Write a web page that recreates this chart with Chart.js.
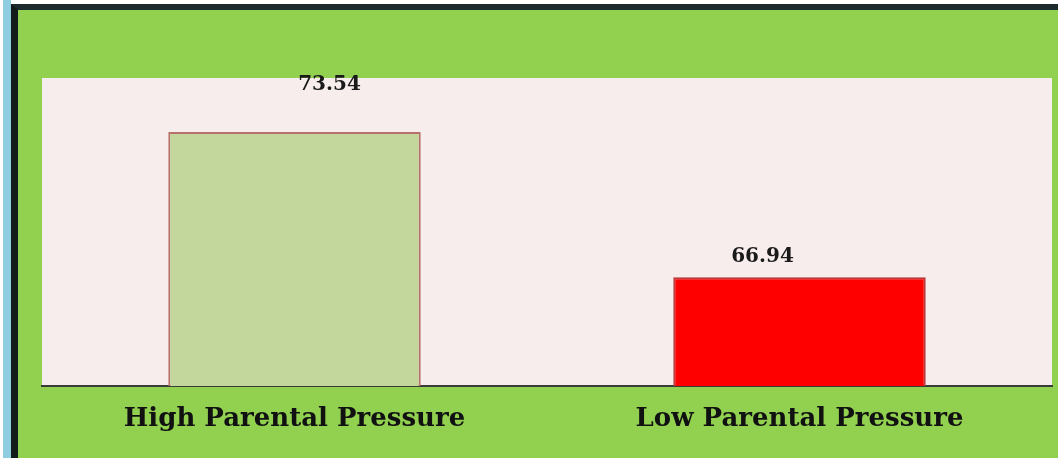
<!DOCTYPE html>
<html>
<head>
<meta charset="utf-8">
<script src="https://cdn.jsdelivr.net/npm/chart.js@4"></script>
<style>
  body { margin: 0; background: #ffffff; }
  #wrap { position: relative; width: 1058px; height: 458px; overflow: hidden; background: #ffffff; }
  #strip { position: absolute; left: 3px; top: 0; width: 8px; height: 458px; background: #8FCDE0; }
  #frame { position: absolute; left: 11px; top: 4px; width: 1060px; height: 470px;
           border-left: 7px solid #131a1a; border-top: 6px solid #1e2b2e; background: #92D050; }
  canvas { position: absolute; left: 0; top: 0; }
</style>
</head>
<body>
<div id="wrap">
  <div id="strip"></div>
  <div id="frame"></div>
  <canvas id="myChart" width="1058" height="458"></canvas>
</div>
<script>
// 데이터
var categories = ['High Parental Pressure', 'Low Parental Pressure'];
var scores = [73.54, 66.94];
var valueLabels = ['73.54', '66.94'];

var barColors = ['#C3D69B', '#FF0000'];
var barBorders = ['#B8706A', '#B83A3A'];

// 플롯 영역 배경
var plotBg = {
    id: 'plotBg',
    beforeDraw: function(chart) {
        var a = chart.chartArea;
        var ctx = chart.ctx;
        ctx.save();
        ctx.fillStyle = '#F7EDED';
        ctx.fillRect(a.left, a.top, a.right - a.left, a.bottom - a.top);
        ctx.restore();
    }
};

// 막대 위 값 표시 (원본처럼 살짝 어긋나 있음)
var valueText = {
    id: 'valueText',
    afterDatasetsDraw: function(chart) {
        var ctx = chart.ctx;
        var dx = [35, -37];
        var dy = [-47, -21];
        var meta = chart.getDatasetMeta(0);
        ctx.save();
        ctx.font = 'bold 20px "DejaVu Serif"';
        ctx.fillStyle = '#1a1a1a';
        ctx.textAlign = 'center';
        ctx.textBaseline = 'middle';
        meta.data.forEach(function(bar, i) {
            ctx.fillText(valueLabels[i], bar.x + dx[i], bar.y + dy[i]);
        });
        ctx.restore();
    }
};

var ctx = document.getElementById('myChart').getContext('2d');
var myChart = new Chart(ctx, {
    type: 'bar',
    data: {
        labels: categories,
        datasets: [{
            data: scores,
            backgroundColor: barColors,
            borderColor: barBorders,
            borderWidth: 2,
            categoryPercentage: 1.0,
            barPercentage: 0.5
        }]
    },
    options: {
        responsive: false,
        animation: false,
        layout: { padding: { left: 42, right: 6, top: 78, bottom: 0 } },
        plugins: { legend: { display: false }, tooltip: { enabled: false } },
        scales: {
            x: {
                grid: { display: false, drawTicks: false },
                border: { display: true, color: '#3a3a3a', width: 2 },
                ticks: {
                    padding: 18,
                    color: '#111111',
                    font: { family: '"DejaVu Serif"', size: 26, weight: 'bold' }
                },
                afterFit: function(scale) { scale.height = 72; }
            },
            y: {
                display: false,
                min: 62,
                max: 76
            }
        }
    },
    plugins: [plotBg, valueText]
});
</script>
</body>
</html>
